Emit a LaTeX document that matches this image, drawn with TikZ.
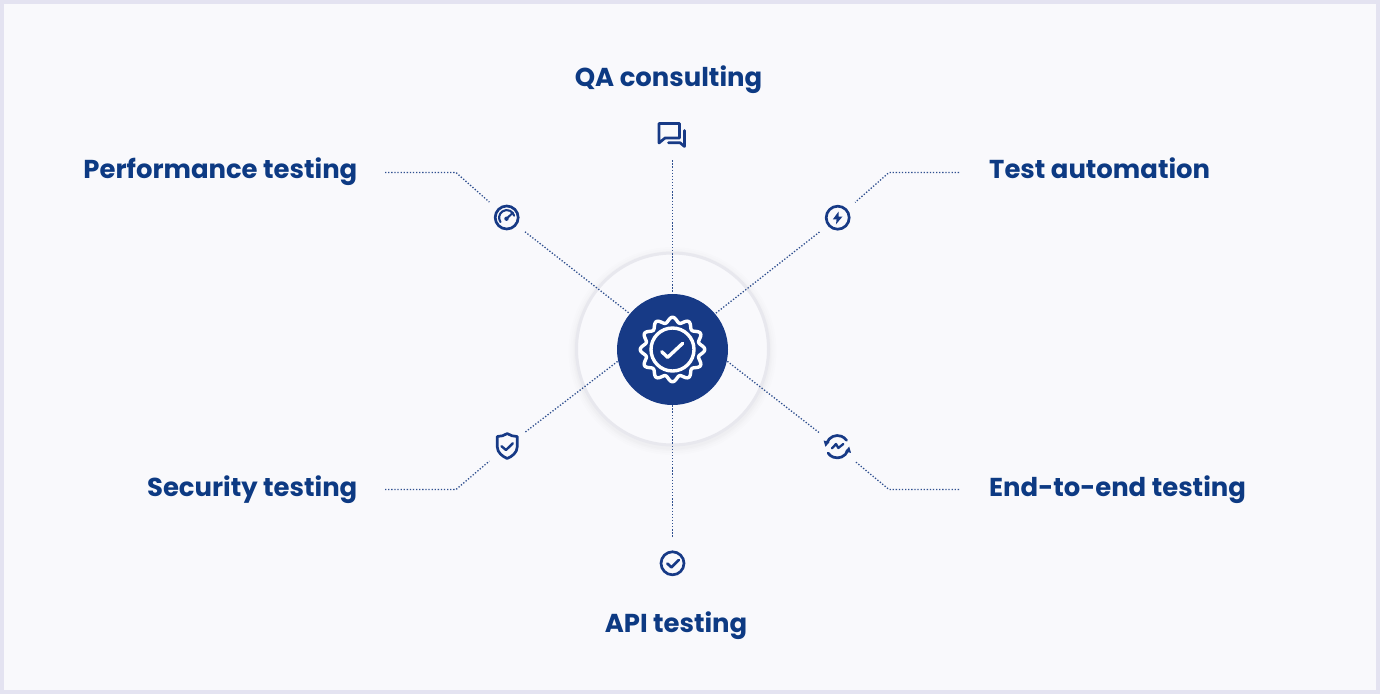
\documentclass[tikz,border=0pt]{standalone}
\usepackage{fontspec}
\setmainfont{Poppins}[BoldFont={* Bold}]
\definecolor{pagebg}{HTML}{F9F9FC}
\definecolor{pageedge}{HTML}{E4E3F1}
\definecolor{navy}{HTML}{173A86}
\definecolor{labelblue}{HTML}{0D3A83}
\definecolor{dotblue}{HTML}{2F4F8F}
\definecolor{ringgrey}{HTML}{E8E8EE}
\tikzset{
  x=1pt,y=-1pt,
  label text/.style={text=labelblue,font=\fontsize{25.9pt}{30pt}\selectfont\bfseries,inner sep=0pt},
  dotline/.style={draw=dotblue,line width=1.3pt,dash pattern=on 1.3pt off 1.8pt},
  spot/.style={circle,inner sep=0pt,minimum size=46pt},
  icon line/.style={draw=navy,line width=2.7pt,line cap=round,line join=round},
  badge line/.style={draw=white,line width=3.4pt,line cap=round,line join=round},
}
\begin{document}
\begin{tikzpicture}
\useasboundingbox (0,0) rectangle (1380,694);
\fill[pageedge] (0,0) rectangle (1380,694);
\fill[pagebg] (4,4) rectangle (1376,690);

% ring with soft shadow
\foreach \r/\o in {104/.006,102/.01,100/.015,98.5/.02}{
  \fill[black!60,opacity=\o] (672.5,351) circle (\r);
}
\node[circle,fill=pagebg,draw=ringgrey,line width=3pt,minimum size=192pt,inner sep=0pt] (ring) at (672.5,349) {};

% named places
\node[circle,inner sep=0pt,minimum size=111pt] (hub) at (672.5,349.5) {};
\node[circle,inner sep=0pt,minimum size=50pt] (chat) at (672.5,135) {};
\node[circle,inner sep=0pt,minimum size=52pt] (api) at (672.5,563.3) {};
\node[spot] (gauge) at (506.7,217.5) {};
\node[spot] (bolt) at (837.7,217.7) {};
\node[spot] (shield) at (507,446) {};
\node[spot] (cycle) at (837.3,446.7) {};
\coordinate (pa) at (385,172.5);
\coordinate (pb) at (456,172.5);
\coordinate (ta) at (959,172.5);
\coordinate (tb) at (889,172.5);
\coordinate (sa) at (385,489.5);
\coordinate (sb) at (456,489.5);
\coordinate (ea) at (959,489.5);
\coordinate (eb) at (889,489.5);

% connectors
\draw[dotline] (chat) -- (hub);
\draw[dotline] (hub) -- (api);
\draw[dotline] (pa) -- (pb) -- (gauge);
\draw[dotline] (gauge) -- (hub.140);
\draw[dotline] (ta) -- (tb) -- (bolt);
\draw[dotline] (bolt) -- (hub.40);
\draw[dotline] (sa) -- (sb) -- (shield);
\draw[dotline] (shield) -- (hub.192);
\draw[dotline] (ea) -- (eb) -- (cycle);
\draw[dotline] (cycle) -- (hub.-12);

% hub disc and badge
\fill[navy] (hub.center) circle (55.5);
\draw[badge line] plot[smooth cycle,samples=144,domain=0:357.5] ({672.5+(29.7+2.6*cos(12*\x))*cos(\x)},{349.5+(29.7+2.6*cos(12*\x))*sin(\x)});
\draw[badge line] (672.5,349.5) circle (21.5);
\draw[badge line] (661.7,351.7) -- (667.7,357.3) -- (682.7,343.3);

% chat icon
\draw[icon line] (659,123.5) -- (679.5,123.5) -- (679.5,138) -- (665,138) -- (659,143) -- cycle;
\draw[icon line] (684.5,130.5) -- (684.5,146.5) -- (680,142.7) -- (668.5,142.7);

% gauge icon
\draw[icon line] (gauge.center) circle (11.5);
\draw[icon line,line width=2.1pt] (500.5,222) arc (145:345:7.6);
\fill[navy] (506.5,218.7) circle (2.2);
\draw[icon line,line width=2pt] (506.5,218.7) -- (512.8,212.8);

% bolt icon
\draw[icon line] (bolt.center) circle (11.5);
\fill[navy] (838.6,211.5) -- (832.8,219.4) -- (836.6,219.4) -- (835.9,224.4) -- (842.5,216.5) -- (838.6,216.5) -- cycle;

% shield icon
\draw[icon line] (497.3,436.5) .. controls (501,436.5) and (504,435.5) .. (507.2,433.6) .. controls (510.5,435.5) and (513.5,436.5) .. (517.2,436.5) -- (517.2,447) .. controls (517.2,452.5) and (512,456.5) .. (507.2,458.5) .. controls (502.5,456.5) and (497.3,452.5) .. (497.3,447) -- cycle;
\draw[icon line,line width=2.4pt] (501.5,446.2) -- (506,450) -- (512.8,443.3);

% cycle icon
\draw[icon line] (826.9,442.7) arc (201:325:11.2);
\draw[icon line] (847.7,450.7) arc (21:145:11.2);
\fill[navy] (823.6,440.5) -- (829.6,442) -- (825.4,446.8) -- cycle;
\fill[navy] (851,452.9) -- (845,451.4) -- (849.2,446.6) -- cycle;
\draw[icon line,line width=2.3pt] (832,448.3) -- (836,444) -- (838.3,448) -- (843.3,444);

% check icon
\draw[icon line] (api.center) circle (11.5);
\draw[icon line] (667.3,563.5) -- (671.5,567.3) -- (678.8,560);

% labels
\node[label text,anchor=base east] (l1) at (357.5,178) {Performance testing};
\node[label text,anchor=base] (l2) at (668.5,86) {QA consulting};
\node[label text,anchor=base west] (l3) at (989,178) {Test automation};
\node[label text,anchor=base east] (l4) at (357.5,496) {Security testing};
\node[label text,anchor=base] (l5) at (676,632) {API testing};
\node[label text,anchor=base west] (l6) at (989,496) {End-to-end testing};
\end{tikzpicture}
\end{document}
